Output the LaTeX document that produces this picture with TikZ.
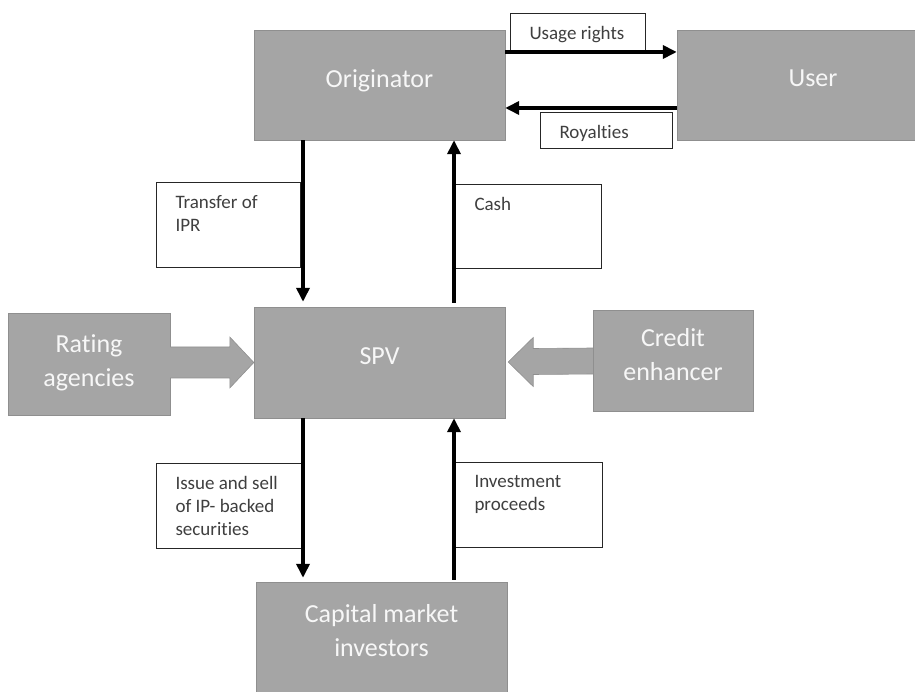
\documentclass[tikz,border=0pt]{standalone}
\usepackage{fontspec}
\setmainfont{Carlito}[Ligatures=NoCommon]
\usetikzlibrary{arrows.meta, calc}

\definecolor{boxgray}{HTML}{A5A5A5}
\definecolor{boxedge}{HTML}{8F8F8F}
\definecolor{tagink}{HTML}{3F3F3F}

% text of a white label box: top-left, fixed size
\newcommand{\taglines}[3]{\parbox[c][#2][t]{#1}{\vspace*{13pt}\leftskip=19pt\relax #3\par}}

\begin{document}
\begin{tikzpicture}[x=1pt, y=1pt,
  party/.style={draw=boxedge, fill=boxgray, text=white!94!gray, align=center,
    font=\fontsize{26}{34}\selectfont, inner sep=0pt, text depth=13pt},
  tagbox/.style={draw=black!85, line width=1pt, fill=white, anchor=north west,
    inner sep=0pt, text=tagink, font=\fontsize{19}{23}\selectfont},
  flow/.style={line width=4pt, -{Triangle[length=14pt,width=13pt]}},
  blockarrow/.style={draw=boxedge, fill=boxgray, line width=0.6pt}]

\useasboundingbox (0,0) rectangle (915,691);

% Parties
\node[party, minimum width=251pt, minimum height=110pt] (orig) at (379.5,606) {Originator};
\node[party, minimum width=272pt, minimum height=110pt] (user) at (813,606) {User};
\node[party, minimum width=251pt, minimum height=111pt] (spv) at (379.5,328.5) {SPV};
\node[party, minimum width=162pt, minimum height=102pt, text depth=7pt] (rate) at (89,327) {Rating\\agencies};
\node[party, minimum width=160pt, minimum height=101pt] (credit) at (673,330.5) {Credit\\enhancer};
\node[party, minimum width=251pt, minimum height=110pt] (cap) at (381.5,54) {Capital market\\investors};

% Flow labels
\node[tagbox] (usage) at (510,678) {\taglines{135pt}{37pt}{Usage rights}};
\node[tagbox] (royal) at (540,579) {\taglines{132pt}{36pt}{Royalties}};
\node[tagbox] (ipr) at (156,509) {\taglines{144pt}{85pt}{Transfer of\\IPR}};
\node[tagbox] (cash) at (455,507) {\taglines{146pt}{84pt}{Cash}};
\node[tagbox] (issue) at (156,228) {\taglines{145pt}{85pt}{Issue and sell\\of IP- backed\\securities}};
\node[tagbox] (invest) at (455,229) {\taglines{147pt}{85pt}{Investment\\proceeds}};

% Flows
\draw[flow] ([yshift=33pt]orig.east) -- ([yshift=33pt]orig.east -| user.west);
\draw[flow] ([yshift=-23pt]user.west) -- ([yshift=-23pt]user.west -| orig.east);
\draw[flow, shorten >=5pt] ([xshift=-76.5pt]orig.south) -- ([xshift=-76.5pt]spv.north);
\draw[flow, shorten <=4pt] ([xshift=74.5pt]spv.north) -- ([xshift=74.5pt]orig.south);
\draw[flow, shorten >=4pt] ([xshift=-76.5pt]spv.south) -- ([xshift=-76.5pt]spv.south |- cap.north);
\draw[flow, shorten <=2pt] ([xshift=74.5pt]spv.south |- cap.north) -- ([xshift=74.5pt]spv.south);

% Block arrows into the SPV
\draw[blockarrow] (rate.east |- 0,313) -- ($(spv.west)+(-24,-15.5)$) -- ($(spv.west)+(-24,-25.5)$)
  -- (spv.west) -- ($(spv.west)+(-24,25.5)$) -- ($(spv.west)+(-24,15.5)$) -- (rate.east |- 0,344);
\draw[blockarrow] (credit.west |- 0,317) -- ($(spv.east)+(28,-12)$) -- ($(spv.east)+(28,-24)$)
  -- ($(spv.east)+(3,0.5)$) -- ($(spv.east)+(28,25)$) -- ($(spv.east)+(28,14)$) -- (credit.west |- 0,343);
\end{tikzpicture}
\end{document}
